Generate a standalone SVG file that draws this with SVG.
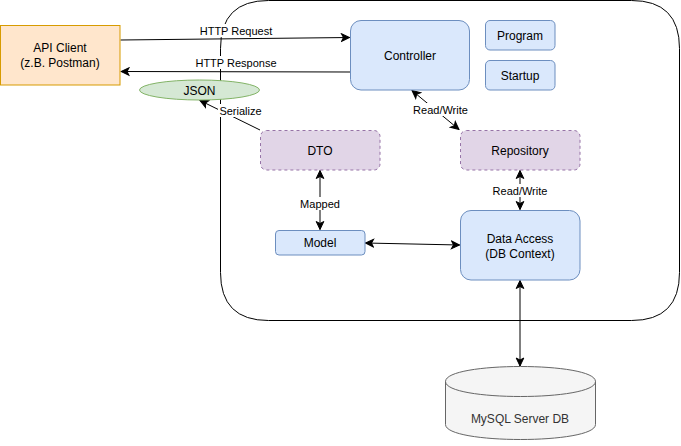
<svg xmlns="http://www.w3.org/2000/svg" width="681" height="446" viewBox="0 0 681 446">
  <defs>
    <marker id="arrow" markerUnits="userSpaceOnUse" markerWidth="10" markerHeight="10" viewBox="0 0 10 10" refX="9" refY="5" orient="auto-start-reverse">
      <path d="M1,1.2 L9,5 L1,8.8 L3,5 Z" fill="#000" stroke="#000" stroke-width="1"/>
    </marker>
    <style>
      text { font-family: "Liberation Sans", Arial, Helvetica, sans-serif; fill: #000; }
      .node { font-size: 12px; text-anchor: middle; }
      .lbl { font-size: 11px; text-anchor: middle; }
      .lblbg { fill: #fff; }
      .edge { fill: none; stroke: #000; stroke-width: 1; }
      .blue { fill: #dae8fc; stroke: #6c8ebf; stroke-width: 1; }
      .purple { fill: #e1d5e7; stroke: #9673a6; stroke-width: 1; stroke-dasharray: 3 3; }
    </style>
  </defs>

  <!-- application boundary -->
  <g id="container">
    <path d="M268.5,0.5 L631.5,0.5 Q679.5,0.5 679.5,48.5 L679.5,272.5 Q679.5,320.5 631.5,320.5 L268.5,320.5 Q220.5,320.5 220.5,272.5 L220.5,48.5 Q220.5,0.5 268.5,0.5 Z" fill="#fff" stroke="#000" stroke-width="1"/>
  </g>

  <g id="connectors">
    <line class="edge" x1="120.5" y1="40" x2="349.5" y2="37.5" marker-end="url(#arrow)"/>
    <line class="edge" x1="350" y1="72" x2="121" y2="71.5" marker-end="url(#arrow)"/>
    <line class="edge" x1="260" y1="130" x2="200" y2="100.5" marker-end="url(#arrow)"/>
    <line class="edge" x1="412" y1="90.5" x2="459" y2="129.5" marker-start="url(#arrow)" marker-end="url(#arrow)"/>
    <line class="edge" x1="320" y1="170.5" x2="320" y2="229.5" marker-start="url(#arrow)" marker-end="url(#arrow)"/>
    <line class="edge" x1="520" y1="170.5" x2="520" y2="209.5" marker-start="url(#arrow)" marker-end="url(#arrow)"/>
    <line class="edge" x1="365.5" y1="243" x2="459.5" y2="245" marker-start="url(#arrow)" marker-end="url(#arrow)"/>
    <line class="edge" x1="520" y1="280.5" x2="520" y2="366" marker-start="url(#arrow)" marker-end="url(#arrow)"/>

    <!-- edge labels -->
    <rect class="lblbg" x="200" y="24" width="72" height="13"/>
    <text class="lbl" x="236" y="34.5">HTTP Request</text>
    <rect class="lblbg" x="196" y="56" width="80" height="13"/>
    <text class="lbl" x="236" y="66.5">HTTP Response</text>
    <rect class="lblbg" x="218" y="104" width="45" height="13"/>
    <text class="lbl" x="240.5" y="114.5">Serialize</text>
    <rect class="lblbg" x="413" y="103" width="55" height="13"/>
    <text class="lbl" x="440.5" y="113.5">Read/Write</text>
    <rect class="lblbg" x="295" y="197" width="50" height="13"/>
    <text class="lbl" x="320" y="207.5">Mapped</text>
    <rect class="lblbg" x="492" y="184" width="56" height="13"/>
    <text class="lbl" x="520" y="194.5">Read/Write</text>
  </g>

  <g id="api-client">
    <rect x="0.5" y="25.5" width="119.5" height="59.5" fill="#ffe6cc" stroke="#d79b00" stroke-width="1"/>
    <text class="node" x="60" y="52">API Client</text>
    <text class="node" x="60" y="67">(z.B. Postman)</text>
  </g>

  <g id="json">
    <ellipse cx="199.5" cy="90" rx="60" ry="10" fill="#d5e8d4" stroke="#82b366" stroke-width="1"/>
    <text class="node" x="199.5" y="94.5">JSON</text>
  </g>

  <g id="controller">
    <rect class="blue" x="350.5" y="20.5" width="119" height="69.5" rx="10.5"/>
    <text class="node" x="410" y="59.5">Controller</text>
  </g>

  <g id="program">
    <rect class="blue" x="485.5" y="20.5" width="69.5" height="29.5" rx="4.5"/>
    <text class="node" x="520" y="39.5">Program</text>
  </g>

  <g id="startup">
    <rect class="blue" x="485.5" y="60.5" width="69.5" height="29.5" rx="4.5"/>
    <text class="node" x="520" y="79.5">Startup</text>
  </g>

  <g id="dto">
    <rect class="purple" x="260.5" y="130.5" width="119.5" height="39.5" rx="6"/>
    <text class="node" x="320" y="154.5">DTO</text>
  </g>

  <g id="repository">
    <rect class="purple" x="460.5" y="130.5" width="119.5" height="39.5" rx="6"/>
    <text class="node" x="520" y="154.5">Repository</text>
  </g>

  <g id="model">
    <rect class="blue" x="275.5" y="230.5" width="89.5" height="24.5" rx="3.5"/>
    <text class="node" x="320" y="247">Model</text>
  </g>

  <g id="data-access">
    <rect class="blue" x="460.5" y="210.5" width="119.5" height="69.5" rx="10.5"/>
    <text class="node" x="520" y="243">Data Access</text>
    <text class="node" x="520" y="258">(DB Context)</text>
  </g>

  <g id="mysql-db">
    <path d="M445.5,381.5 C445.5,361.5 595.5,361.5 595.5,381.5 L595.5,424.5 C595.5,444.5 445.5,444.5 445.5,424.5 Z" fill="#f5f5f5" stroke="#666666" stroke-width="1"/>
    <path d="M445.5,381.5 C445.5,401.5 595.5,401.5 595.5,381.5" fill="none" stroke="#666666" stroke-width="1"/>
    <text class="node" x="520" y="422.5" style="fill:#333333">MySQL Server DB</text>
  </g>
</svg>
